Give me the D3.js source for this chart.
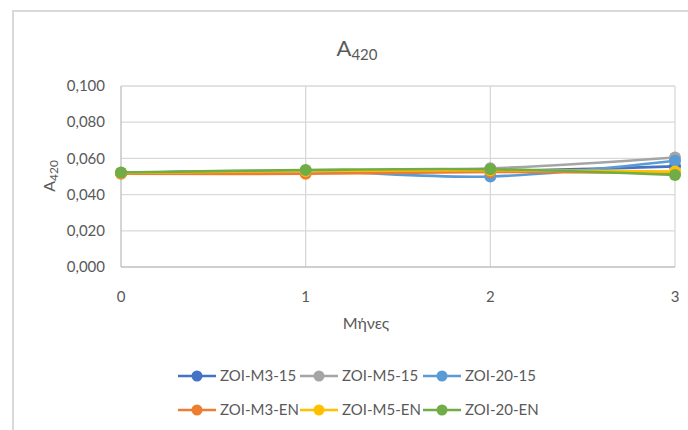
<!DOCTYPE html>
<html>
<head>
<meta charset="utf-8">
<script src="https://cdn.jsdelivr.net/npm/d3@7/dist/d3.min.js"></script>
<style>
  html, body { margin: 0; padding: 0; background: #fff; }
  svg { display: block; font-family: Lato, "Open Sans", sans-serif; }
</style>
</head>
<body>
<svg id="chart" width="688" height="430"></svg>
<script>
// Months on the x axis
const months = [0, 1, 2, 3];
// Y axis ticks
const yTicks = [0, 0.02, 0.04, 0.06, 0.08, 0.10];

// Series names, colours and A420 readings per month
const seriesNames = ["ZOI-M3-15", "ZOI-M5-15", "ZOI-20-15", "ZOI-M3-EN", "ZOI-M5-EN", "ZOI-20-EN"];
const seriesColors = ["#4472C4", "#A5A5A5", "#5B9BD5", "#ED7D31", "#FFC000", "#70AD47"];
const zoiM3_15 = [0.052, 0.053, 0.053, 0.0556];
const zoiM5_15 = [0.052, 0.053, 0.0545, 0.0605];
const zoi20_15 = [0.052, 0.053, 0.050, 0.0587];
const zoiM3_EN = [0.0515, 0.0515, 0.0525, 0.052];
const zoiM5_EN = [0.052, 0.053, 0.0535, 0.0527];
const zoi20_EN = [0.0522, 0.0536, 0.054, 0.0508];
const seriesValues = [zoiM3_15, zoiM5_15, zoi20_15, zoiM3_EN, zoiM5_EN, zoi20_EN];

const svg = d3.select("#chart");
const fmt = v => d3.format(".3f")(v).replace(".", ",");

// Chart frame
svg.append("rect")
  .attr("x", 13).attr("y", 11)
  .attr("width", 700).attr("height", 440)
  .attr("fill", "#fff")
  .attr("stroke", "#d9d9d9").attr("stroke-width", 2);

const x = d3.scaleLinear().domain([0, 3]).range([121, 675]);
const y = d3.scaleLinear().domain([0, 0.10]).range([267, 86]);

// Horizontal gridlines
svg.append("g")
  .selectAll("line").data(yTicks.slice(1)).join("line")
  .attr("x1", x(0)).attr("x2", x(3))
  .attr("y1", d => y(d)).attr("y2", d => y(d))
  .attr("stroke", "#d9d9d9").attr("stroke-width", 1.3);

// Vertical gridlines
svg.append("g")
  .selectAll("line").data(months.slice(1)).join("line")
  .attr("x1", d => x(d)).attr("x2", d => x(d))
  .attr("y1", y(0.10)).attr("y2", y(0))
  .attr("stroke", "#d9d9d9").attr("stroke-width", 1.3);

// Axis lines
svg.append("line")
  .attr("x1", x(0)).attr("x2", x(0)).attr("y1", y(0.10)).attr("y2", y(0))
  .attr("stroke", "#bfbfbf").attr("stroke-width", 1.3);
svg.append("line")
  .attr("x1", x(0)).attr("x2", x(3)).attr("y1", y(0)).attr("y2", y(0))
  .attr("stroke", "#bfbfbf").attr("stroke-width", 1.3);

// Y tick labels
svg.append("g")
  .selectAll("text").data(yTicks).join("text")
  .attr("x", 105).attr("y", d => y(d))
  .attr("dy", "0.35em")
  .attr("text-anchor", "end")
  .attr("font-size", 15).attr("fill", "#595959")
  .text(fmt);

// X tick labels
svg.append("g")
  .selectAll("text").data(months).join("text")
  .attr("x", d => x(d)).attr("y", 297)
  .attr("dy", "0.35em")
  .attr("text-anchor", "middle")
  .attr("font-size", 15).attr("fill", "#595959")
  .text(d => d);

// Title
const title = svg.append("text")
  .attr("x", 357).attr("y", 56)
  .attr("text-anchor", "middle")
  .attr("fill", "#595959");
title.append("tspan").attr("font-size", 22).text("A");
title.append("tspan").attr("font-size", 15).attr("dy", 4).text("420");

// Y axis title
const yTitle = svg.append("text")
  .attr("transform", "translate(55,176) rotate(-90)")
  .attr("text-anchor", "middle")
  .attr("fill", "#595959");
yTitle.append("tspan").attr("font-size", 16).text("A");
yTitle.append("tspan").attr("font-size", 12).attr("dy", 3).text("420");

// X axis title
svg.append("text")
  .attr("x", 366).attr("y", 329)
  .attr("text-anchor", "middle")
  .attr("font-size", 16).attr("fill", "#595959")
  .text("Μήνες");

// Smoothed series lines with markers
const line = d3.line()
  .x((d, i) => x(months[i]))
  .y(d => y(d))
  .curve(d3.curveCatmullRom.alpha(0.5));

const plot = svg.append("g");
seriesValues.forEach((vals, si) => {
  const g = plot.append("g");
  g.append("path")
    .attr("d", line(vals))
    .attr("fill", "none")
    .attr("stroke", seriesColors[si])
    .attr("stroke-width", 2.6)
    .attr("stroke-linecap", "round");
  g.selectAll("circle").data(vals).join("circle")
    .attr("cx", (d, i) => x(months[i]))
    .attr("cy", d => y(d))
    .attr("r", 6)
    .attr("fill", seriesColors[si]);
});

// Legend: two rows of three
const legendX = [178, 300, 423];
const legendY = [376, 410];
const legend = svg.append("g");
seriesNames.forEach((name, i) => {
  const lx = legendX[i % 3];
  const ly = legendY[Math.floor(i / 3)];
  const g = legend.append("g").attr("transform", `translate(${lx},${ly})`);
  g.append("line")
    .attr("x1", 0).attr("x2", 38).attr("y1", 0).attr("y2", 0)
    .attr("stroke", seriesColors[i]).attr("stroke-width", 2.6);
  g.append("circle").attr("cx", 19).attr("cy", 0).attr("r", 5.5)
    .attr("fill", seriesColors[i]);
  g.append("text")
    .attr("x", 42).attr("y", 0).attr("dy", "0.35em")
    .attr("font-size", 15).attr("fill", "#595959")
    .text(name);
});
</script>
</body>
</html>
